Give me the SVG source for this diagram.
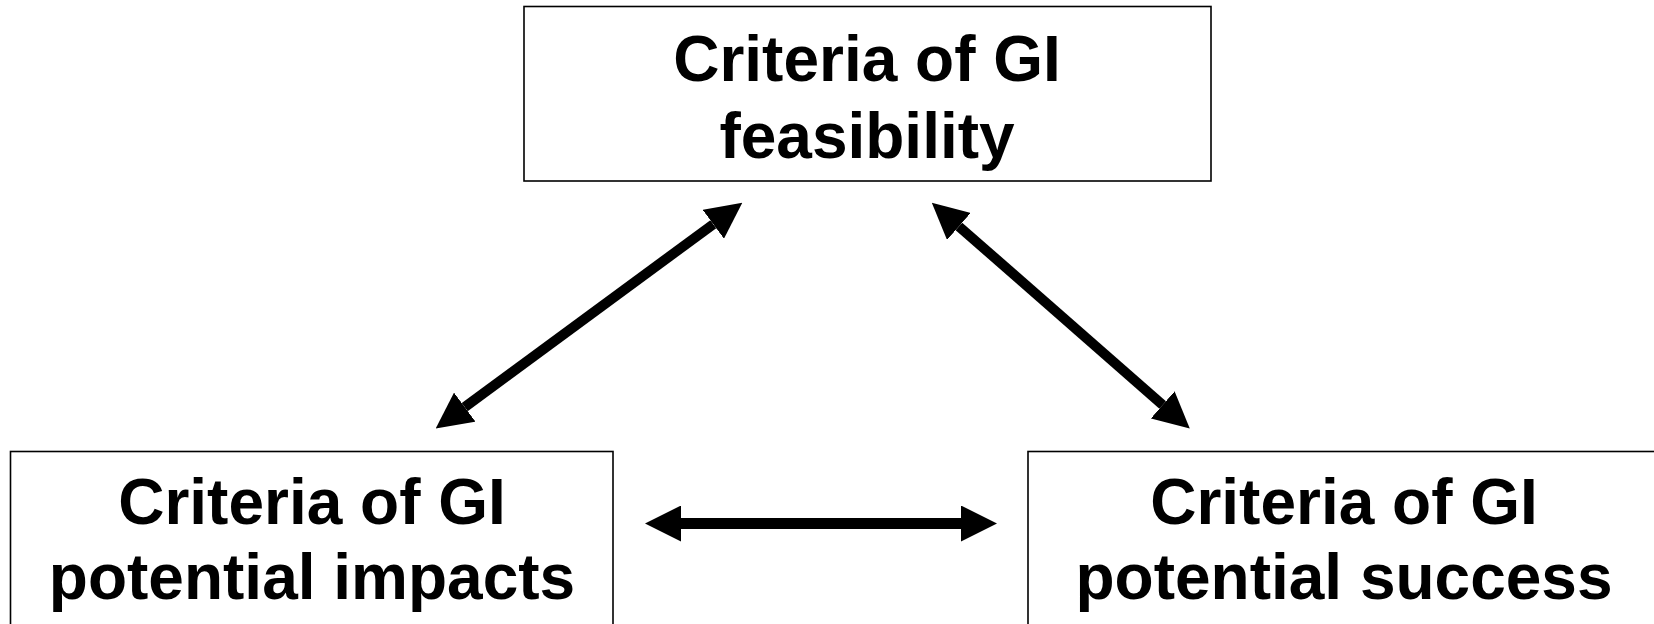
<svg xmlns="http://www.w3.org/2000/svg" width="1654" height="624" viewBox="0 0 1654 624">
  <style>
    .box { fill: #ffffff; stroke: #000000; stroke-width: 1.6; }
    .label { font-family: "Liberation Sans", Arial, sans-serif; font-weight: bold; font-size: 64px; fill: #000000; text-anchor: middle; }
    .link { stroke: #000000; stroke-width: 10; fill: none; marker-start: url(#head); marker-end: url(#head); }
  </style>
  <defs>
    <marker id="head" markerUnits="userSpaceOnUse" markerWidth="36" markerHeight="36" viewBox="0 0 36 36" refX="0" refY="18" orient="auto-start-reverse">
      <path d="M0,0 L36,18 L0,36 Z" fill="#000000"/>
    </marker>
  </defs>
  <rect width="1654" height="624" fill="#ffffff"/>

  <g id="node-feasibility">
    <rect class="box" x="524" y="6.5" width="687" height="174.5"/>
    <text class="label" x="867" y="81">Criteria of GI</text>
    <text class="label" x="867" y="158">feasibility</text>
  </g>

  <g id="node-impacts">
    <rect class="box" x="10.5" y="451.5" width="602.5" height="190"/>
    <text class="label" x="312" y="524">Criteria of GI</text>
    <text class="label" x="312" y="599">potential impacts</text>
  </g>

  <g id="node-success">
    <rect class="box" x="1028" y="451.5" width="640" height="190"/>
    <text class="label" x="1344" y="524">Criteria of GI</text>
    <text class="label" x="1344" y="599">potential success</text>
  </g>

  <g id="connectors">
    <line class="link" x1="464.7" y1="407.1" x2="713.3" y2="224.2"/>
    <line class="link" x1="958.9" y1="226.4" x2="1162.7" y2="404.9"/>
    <line class="link" x1="681" y1="523.5" x2="961" y2="523.5" style="stroke-width:11"/>
  </g>
</svg>
